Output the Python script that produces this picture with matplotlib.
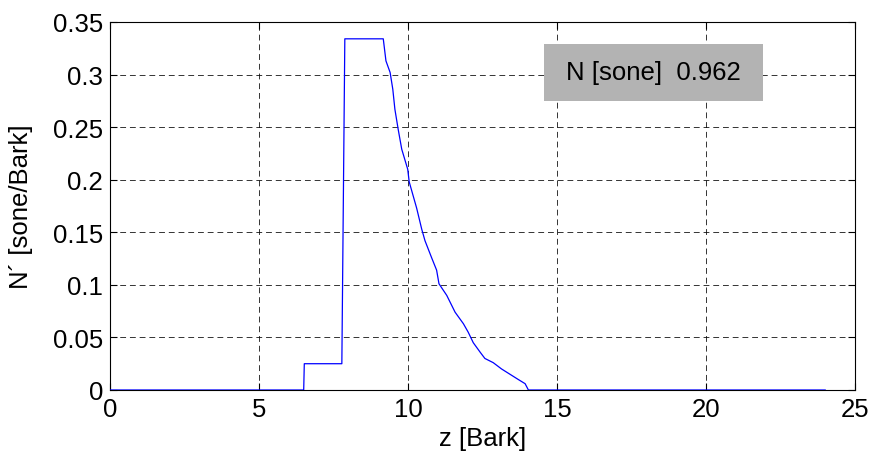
import matplotlib
matplotlib.use("Agg")
import matplotlib.pyplot as plt
from matplotlib.patches import Rectangle

plt.rcParams['font.family'] = ['Liberation Sans', 'DejaVu Sans']

# specific loudness N' [sone/Bark] over critical band rate z [Bark]
z_vals = [0.0, 6.5, 6.52, 7.78, 7.88, 9.17, 9.26, 9.40, 9.49, 9.56, 9.67, 9.79,
          9.99, 10.04, 10.29, 10.46, 10.57, 10.79, 10.96, 11.04, 11.30, 11.58,
          11.86, 12.02, 12.19, 12.42, 12.58, 12.86, 13.14, 13.42, 13.70, 13.93,
          14.04, 24.0]
n_vals = [0.0, 0.0, 0.025, 0.025, 0.334, 0.334, 0.313, 0.302, 0.286, 0.267,
          0.248, 0.229, 0.210, 0.198, 0.173, 0.153, 0.142, 0.126, 0.114, 0.101,
          0.090, 0.074, 0.063, 0.055, 0.045, 0.036, 0.030, 0.026, 0.020, 0.015,
          0.010, 0.006, 0.0, 0.0]
total_loudness = 0.962
x_ticks = [0, 5, 10, 15, 20, 25]
y_ticks = [0, 0.05, 0.1, 0.15, 0.2, 0.25, 0.3, 0.35]
y_ticklabels = ['0', '0.05', '0.1', '0.15', '0.2', '0.25', '0.3', '0.35']

FS = 18.5

fig = plt.figure(figsize=(8.72, 4.64), dpi=100)
ax = fig.add_axes([110 / 872, 1 - 391 / 464, 745 / 872, 368 / 464])

ax.plot(z_vals, n_vals, color=(0, 0, 1), linewidth=0.9, zorder=3)

ax.set_xlim(0, 25)
ax.set_ylim(0, 0.35)
ax.set_xticks(x_ticks)
ax.set_yticks(y_ticks)
ax.set_yticklabels(y_ticklabels)
ax.tick_params(direction='in', length=5, width=0.8, top=True, right=True,
               labelsize=FS, pad=5, colors='black')
ax.grid(True, color='black', linestyle=(0, (6, 4)), linewidth=0.7, alpha=0.8)
ax.set_axisbelow(True)
for s in ax.spines.values():
    s.set_linewidth(0.8)
    s.set_color('black')

ax.set_xlabel('z [Bark]', fontsize=FS, labelpad=4)
ax.set_ylabel('N\u00b4 [sone/Bark]', fontsize=FS, labelpad=14)

box = Rectangle((0.5826, 0.786), 0.2935, 0.154, transform=ax.transAxes,
                facecolor='#b3b3b3', edgecolor='none', zorder=4)
ax.add_patch(box)
ax.text(0.5826 + 0.2935 / 2, 0.786 + 0.154 / 2,
        'N [sone]  %.3f' % total_loudness, transform=ax.transAxes,
        ha='center', va='center', fontsize=FS, zorder=5)

fig.savefig('out.png', dpi=100)
